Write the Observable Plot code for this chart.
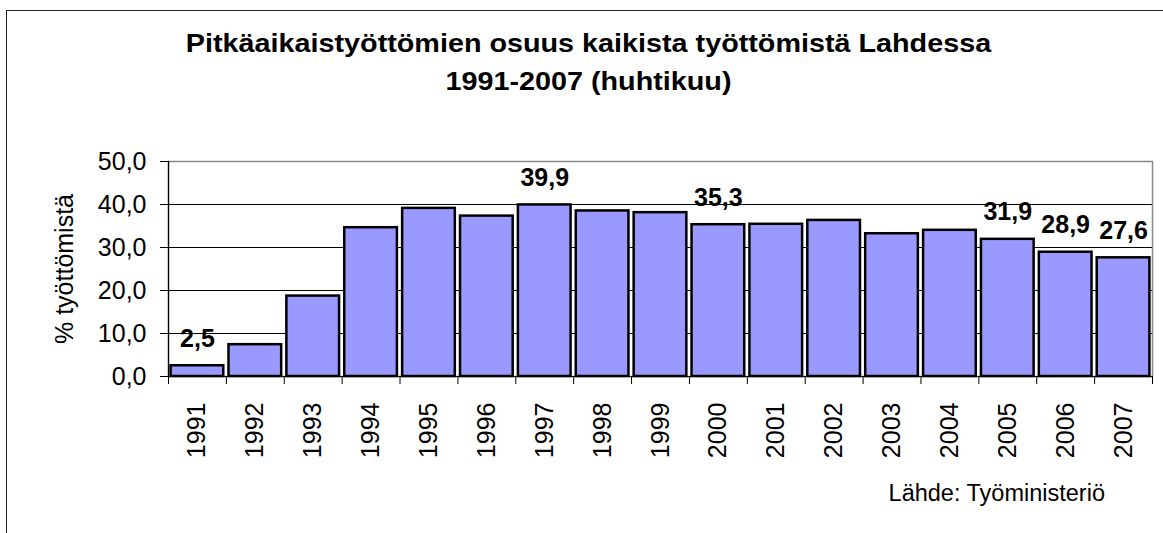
<!DOCTYPE html>
<html>
<head>
<meta charset="utf-8">
<script src="https://cdn.jsdelivr.net/npm/d3@7"></script>
<script src="https://cdn.jsdelivr.net/npm/@observablehq/plot@0.6"></script>
<style>
  html, body { margin: 0; padding: 0; background: #fff; overflow: hidden; }
  #page { position: relative; width: 1163px; height: 533px; overflow: hidden; font-family: "Liberation Sans", Arial, sans-serif; }
  #border { position: absolute; left: 6px; top: 10px; width: 1300px; height: 700px; border: 1.5px solid #222; box-sizing: border-box; }
  #title { position: absolute; left: 0; top: 24px; width: 1177px; text-align: center; font-weight: bold; font-size: 25px; line-height: 38px; color: #000; transform: scaleX(1.15); transform-origin: 588.5px 0; }
  #chart { position: absolute; left: 0; top: 130px; }
  #caption { position: absolute; right: 58px; top: 482px; font-size: 23.5px; line-height: 1; color: #000; }
</style>
</head>
<body>
<div id="page">
  <div id="border"></div>
  <div id="title">Pitkäaikaistyöttömien osuus kaikista työttömistä Lahdessa<br>1991-2007 (huhtikuu)</div>
  <div id="chart"></div>
  <div id="caption">Lähde: Työministeriö</div>
</div>
<script>
// ---- data ----
const years = ["1991","1992","1993","1994","1995","1996","1997","1998","1999","2000","2001","2002","2003","2004","2005","2006","2007"];
const values = [2.5, 7.4, 18.7, 34.6, 39.1, 37.3, 39.9, 38.5, 38.1, 35.3, 35.4, 36.3, 33.2, 34.0, 31.9, 28.9, 27.6];
const labeledYears = ["1991","1997","2000","2005","2006","2007"];
const yTicks = [0, 10, 20, 30, 40, 50];
const gridValues = [10, 20, 30, 40];
const yLabel = "% työttömistä";

const data = years.map((year, i) => ({year, value: values[i]}));
const labeled = data.filter(d => labeledYears.includes(d.year));
const fmt = v => v.toFixed(1).replace(".", ",");

const W = 1163, H = 340, ML = 168, MR = 11, MT = 31, MB = 94;
const step = (W - ML - MR) / years.length;

const chart = Plot.plot({
  width: W, height: H,
  marginLeft: ML, marginRight: MR, marginTop: MT, marginBottom: MB,
  style: {fontFamily: "'Liberation Sans', Arial, sans-serif", fontSize: "25px", color: "black", background: "transparent", overflow: "visible"},
  x: {type: "band", domain: years, paddingInner: 0.09, paddingOuter: 0.045, round: false, label: null},
  y: {domain: [0, 50], label: null},
  marks: [
    Plot.frame({stroke: "#888", strokeWidth: 1.5}),
    Plot.ruleY(gridValues, {stroke: "black", strokeWidth: 1}),
    Plot.barY(data, {x: "year", y: "value", fill: "#9999FF", stroke: "black", strokeWidth: 2.5}),
    Plot.ruleY([0], {stroke: "black", strokeWidth: 1.2}),
    Plot.frame({anchor: "left", stroke: "black", strokeWidth: 1.2}),
    Plot.axisY(yTicks, {tickSize: 8, tickPadding: 14, tickFormat: fmt, fontSize: 25, label: yLabel, labelAnchor: "center", labelOffset: 113, labelArrow: "none"}),
    Plot.axisX(years, {tickSize: 8, tickFormat: () => "", dx: -step / 2, label: null}),
    Plot.axisX([years[years.length - 1]], {tickSize: 8, tickFormat: () => "", dx: step / 2, label: null}),
    Plot.axisX(years, {tickSize: 0, tickPadding: 26, tickRotate: -90, fontSize: 25, label: null}),
    Plot.text(labeled, {x: "year", y: "value", text: d => fmt(d.value), dy: -27, fontWeight: "bold", fontSize: 25})
  ]
});
document.getElementById("chart").appendChild(chart);
</script>
</body>
</html>
